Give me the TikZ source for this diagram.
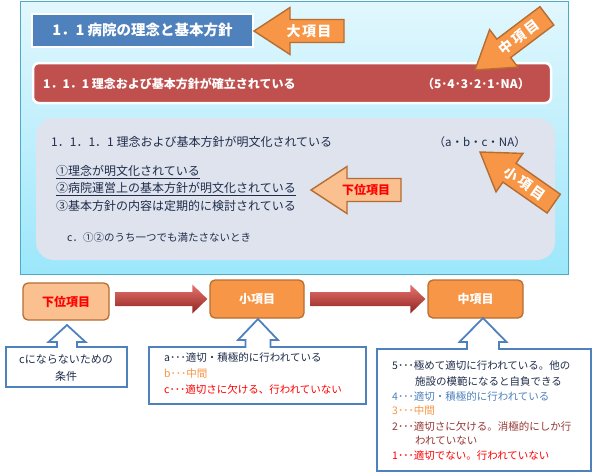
\documentclass[tikz,border=0pt]{standalone}
\usepackage{fontspec}
\setmainfont{Noto Sans CJK JP}
\usetikzlibrary{calc}
\definecolor{panelTop}{HTML}{E2F7FD}
\definecolor{panelBot}{HTML}{9CE7FB}
\definecolor{panelEdge}{HTML}{4BACC6}
\definecolor{titleBlue}{HTML}{4F81BD}
\definecolor{redBox}{HTML}{C0504D}
\definecolor{grayBox}{HTML}{DEE3EE}
\definecolor{orangeF}{HTML}{F79646}
\definecolor{orangeD}{HTML}{B66D31}
\definecolor{peach}{HTML}{FAC090}
\definecolor{navy}{HTML}{1F2D4A}
\definecolor{calloutBlue}{HTML}{4F81BD}
\definecolor{darkRed}{HTML}{953735}
\definecolor{blueText}{HTML}{4F81BD}
\definecolor{redTop}{HTML}{E8736E}
\definecolor{redMid}{HTML}{C63B36}
\definecolor{redBot}{HTML}{8E2420}
\tikzset{
  arrowbody/.style={draw=orangeD, line width=1.4pt, line join=miter},
  lab/.style={inner sep=0pt, font=\bfseries\fontsize{14}{14}\selectfont},
  levelbox/.style={rounded corners=5pt, draw=orangeD, line width=1.3pt,
    minimum width=94pt, minimum height=38pt, inner sep=0pt,
    font=\bfseries\fontsize{12}{12}\selectfont},
  callout/.style={draw=calloutBlue, line width=1.8pt, fill=white, line join=miter},
  redarrow/.style={top color=redTop, middle color=redMid, bottom color=redBot},
  txt/.style={inner sep=0pt, anchor=west, text=navy, font=\fontsize{12}{12}\selectfont},
  small/.style={inner sep=0pt, anchor=west, text=navy, font=\fontsize{10.5}{10.5}\selectfont},
}
\newcommand\blockarrow[6]{%
  \begin{scope}[shift={#1}, rotate=#2]
    \draw[arrowbody, fill=#3] (0,0) -- (36,-23.5) -- (36,-11.5) -- (90,-11.5)
      -- (90,11.5) -- (36,11.5) -- (36,23.5) -- cycle;
    \node[lab, text=#5, rotate=#2] (#4) at (55,0) {#6};
  \end{scope}}
\newcommand\redconn[2]{%
  \path[redarrow] let \p1=($(#1.east)+(6,0)$), \p2=($(#2.west)+(-2,0)$) in
    (\x1,\y2+7pt) -- (\x2-15pt,\y2+7pt) -- (\x2-15pt,\y2+14.5pt) -- (\x2,\y2)
    -- (\x2-15pt,\y2-14.5pt) -- (\x2-15pt,\y2-7pt) -- (\x1,\y2-7pt) -- cycle;}
\newcommand\labgap{\hspace{2.5pt}}
\begin{document}
\begin{tikzpicture}[x=1pt, y=-1pt]
\useasboundingbox (0,0) rectangle (594,475);
% top panel
\path[top color=panelTop, bottom color=panelBot] (20,1) rectangle (568,274);
\draw[panelEdge, line width=1pt] (20,1) rectangle (568,274);
% title
\node[fill=titleBlue, draw=white, line width=2.5pt, minimum width=221pt,
  minimum height=33pt, inner sep=0pt, text=white,
  font=\bfseries\fontsize{14.5}{14.5}\selectfont] (title) at (142.5,30.5)
  {1．1 病院の理念と基本方針};
% red box
\draw[fill=redBox, draw=white, line width=2.5pt, rounded corners=6pt] (33,63) rectangle (551,103);
\node[txt, text=white, font=\bfseries\fontsize{12}{12}\selectfont] (mid) at (43,84)
  {1．1．1 理念および基本方針が確立されている};
\node[txt, anchor=east, text=white, font=\bfseries\fontsize{12}{12}\selectfont] (midscale) at (530,84)
  {（5･4･3･2･1･NA）};
% gray box
\fill[grayBox, rounded corners=18pt] (36,118) rectangle (555,260);
\node[txt] (small) at (51,142) {1．1．1．1 理念および基本方針が明文化されている};
\node[txt, anchor=east, font=\fontsize{11.5}{11.5}\selectfont] (smallscale) at (526,142) {（a・b・c・NA）};
\node[txt] (it1) at (56,172) {\underline{①理念が明文化されている}};
\node[txt] (it2) at (56,189) {\underline{②病院運営上の基本方針が明文化されている}};
\node[txt] (it3) at (56,206) {③基本方針の内容は定期的に検討されている};
\node[txt, font=\fontsize{10.5}{10.5}\selectfont] (cc) at (67,238) {c．①②のうち一つでも満たさないとき};
% pointer arrows
\blockarrow{(254,31)}{0}{orangeF}{lbig}{white}{大\hspace{1.5pt}項\hspace{1.5pt}目}
\blockarrow{(475,70)}{37}{orangeF}{lmid}{white}{中\labgap 項\labgap 目}
\blockarrow{(480,152)}{-35}{orangeF}{lsmall}{white}{小\labgap 項\labgap 目}
\blockarrow{(311,190)}{0}{peach}{lsub}{red}{\fontsize{12}{12}\selectfont 下位項目}
% bottom level boxes
\node[levelbox, fill=peach, text=red, minimum width=86pt, minimum height=37pt] (n1) at (66,301.5) {下位項目};
\node[levelbox, fill=orangeF, text=white] (n2) at (257,299) {小項目};
\node[levelbox, fill=orangeF, text=white, minimum width=95pt] (n3) at (475.5,299) {中項目};
\redconn{n1}{n2}
\redconn{n2}{n3}
% callouts
\draw[callout] (6,347) -- (57,347) -- (57,342) -- (48.5,342) -- (67,325) -- (85.5,342)
  -- (77,342) -- (77,347) -- (127,347) -- (127,387) -- (6,387) -- cycle;
\node[inner sep=0pt, align=center, text=navy, font=\fontsize{11}{17}\selectfont] (c1) at (66,368)
  {cにならないための\\条件};
\draw[callout] (149,347) -- (245.5,347) -- (245.5,340) -- (238,340) -- (258,319) -- (278,340)
  -- (270.5,340) -- (270.5,347) -- (366,347) -- (366,404) -- (149,404) -- cycle;
\node[small] (c2a) at (164,358) {a･･･適切・積極的に行われている};
\node[small, text=orangeF] (c2b) at (164,374) {b･･･中間};
\node[small, text=red] (c2c) at (164,389) {c･･･適切さに欠ける、行われていない};
\draw[callout] (377,349) -- (467,349) -- (467,342) -- (459.5,342) -- (483,318) -- (506.5,342)
  -- (499,342) -- (499,349) -- (591,349) -- (591,471) -- (377,471) -- cycle;
\node[small] (c3a) at (392,366) {5･･･極めて適切に行われている。他の};
\node[small] (c3b) at (415,381) {施設の模範になると自負できる};
\node[small, text=blueText] (c3c) at (392,396) {4･･･適切・積極的に行われている};
\node[small, text=orangeF] (c3d) at (392,411) {3･･･中間};
\node[small, text=darkRed] (c3e) at (392,426) {2･･･適切さに欠ける。消極的にしか行};
\node[small, text=darkRed] (c3f) at (415,441) {われていない};
\node[small, text=red] (c3g) at (392,456) {1･･･適切でない。行われていない};
\end{tikzpicture}
\end{document}
